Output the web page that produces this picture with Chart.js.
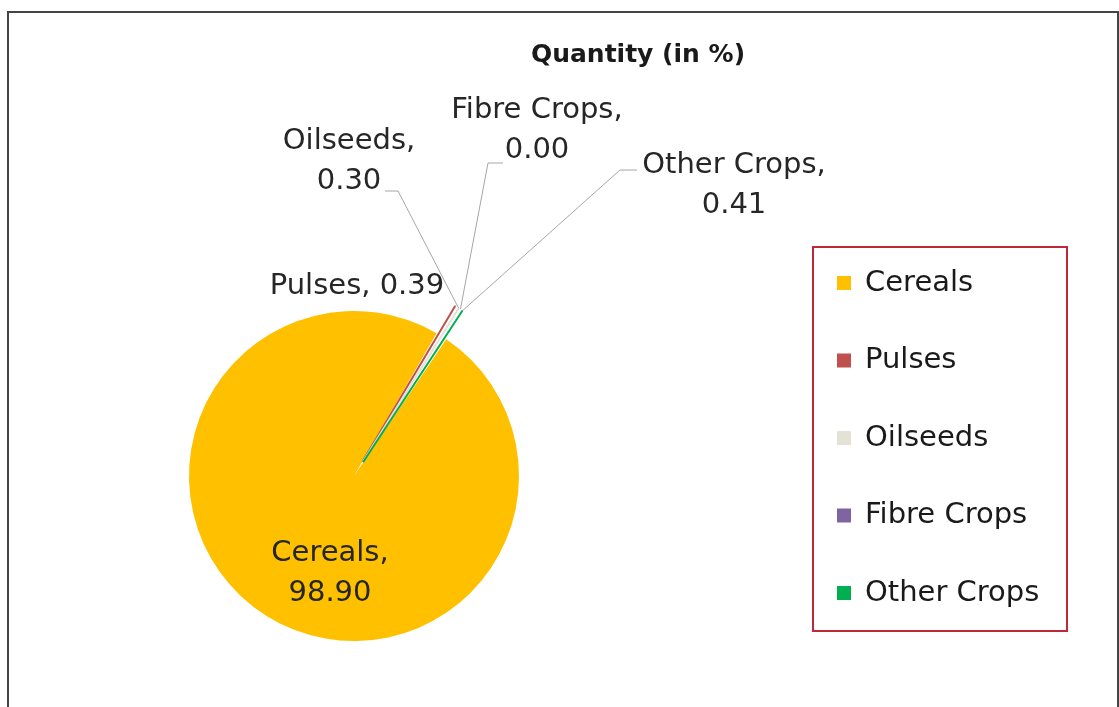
<!DOCTYPE html>
<html>
<head>
<meta charset="utf-8">
<title>Quantity (in %)</title>
<script src="https://cdn.jsdelivr.net/npm/chart.js@4/dist/chart.umd.min.js"></script>
<style>
  html, body { margin: 0; background: #fff; }
  #wrap { position: relative; width: 1119px; height: 707px; overflow: hidden; }
  #frame { position: absolute; left: 7px; top: 11px; width: 1112px; height: 800px; border: 2px solid #444; box-sizing: border-box; }
  #box { position: absolute; left: 0; top: 0; width: 1119px; height: 707px; }
</style>
</head>
<body>
<div id="wrap">
  <div id="frame"></div>
  <div id="box"><canvas id="pieChart"></canvas></div>
</div>
<script>
// data
const chartTitle = "Quantity (in %)";
const crops = ["Cereals", "Pulses", "Oilseeds", "Fibre Crops", "Other Crops"];
const quantity = [98.90, 0.39, 0.30, 0.00, 0.41];
const sliceColors = ["#FFC000", "#C0504D", "#E4E2D4", "#8064A2", "#00B050"];

// where each data label sits (centre of text block) and whether it wraps
const labelSpots = [
  { x: 330, y: 573, wrap: true },
  { x: 357, y: 286, wrap: false },
  { x: 349, y: 161, wrap: true },
  { x: 537, y: 130, wrap: true },
  { x: 734, y: 185, wrap: true }
];
// elbow of the leader line: [startX, startY, bendX, bendY]
const leaders = [null, null, [385, 191, 398, 191], [503, 163, 488, 163], [637, 170, 620, 170]];

const FONT = '"DejaVu Sans", "Noto Sans", sans-serif';
const LINE_H = 40;

function sliceTip(arc) {
  // same shift ArcElement.draw applies for `offset`
  const { x, y, startAngle, endAngle, outerRadius, circumference } = arc.getProps(
    ["x", "y", "startAngle", "endAngle", "outerRadius", "circumference"], true);
  const mid = (startAngle + endAngle) / 2;
  const off = (arc.options.offset || 0) / 4;
  const fix = 1 - Math.sin(Math.min(Math.PI, circumference || 0));
  const r = outerRadius + off + off * fix;
  return [x + Math.cos(mid) * r, y + Math.sin(mid) * r];
}

const piePainter = {
  id: "piePainter",
  afterDatasetsDraw(chart) {
    const ctx = chart.ctx;
    const meta = chart.getDatasetMeta(0);
    ctx.save();

    // title
    ctx.fillStyle = "#1a1a1a";
    ctx.textAlign = "center";
    ctx.textBaseline = "middle";
    ctx.font = "bold 25px " + FONT;
    ctx.fillText(chartTitle, 638, 55);

    // leader lines
    ctx.strokeStyle = "#a6a6a6";
    ctx.lineWidth = 1;
    leaders.forEach((l, i) => {
      if (!l) return;
      const [tx, ty] = sliceTip(meta.data[i]);
      ctx.beginPath();
      ctx.moveTo(l[0], l[1]);
      ctx.lineTo(l[2], l[3]);
      ctx.lineTo(tx, ty);
      ctx.stroke();
    });

    // data labels
    ctx.font = "29px " + FONT;
    crops.forEach((name, i) => {
      const s = labelSpots[i];
      const val = quantity[i].toFixed(2);
      ctx.fillStyle = "#262626";
      if (s.wrap) {
        ctx.fillText(name + ",", s.x, s.y - LINE_H / 2);
        ctx.fillText(val, s.x, s.y + LINE_H / 2);
      } else {
        ctx.fillText(name + ", " + val, s.x, s.y);
      }
    });

    // legend with red border
    ctx.strokeStyle = "#C0283A";
    ctx.lineWidth = 2;
    ctx.strokeRect(813, 247, 254, 384);
    ctx.textAlign = "left";
    crops.forEach((name, i) => {
      const cy = 283 + i * 77.5;
      ctx.fillStyle = sliceColors[i];
      ctx.fillRect(837, cy - 7, 14, 14);
      ctx.fillStyle = "#1a1a1a";
      ctx.fillText(name, 865, cy);
    });

    ctx.restore();
  }
};

new Chart(document.getElementById("pieChart"), {
  type: "pie",
  data: {
    labels: crops,
    datasets: [{
      data: quantity,
      backgroundColor: sliceColors,
      // thin exploded slivers show up only through their outline
      borderColor: sliceColors,
      borderWidth: quantity.map(v => (v < 5 ? 2 : 0)),
      offset: quantity.map(v => (v < 5 ? 66 : 0))
    }]
  },
  options: {
    responsive: true,
    maintainAspectRatio: false,
    animation: false,
    rotation: 34,
    radius: 165,
    layout: { padding: { left: 0, right: 411, top: 245, bottom: 0 } },
    plugins: {
      legend: { display: false },
      title: { display: false },
      tooltip: { enabled: false }
    }
  },
  plugins: [piePainter]
});
</script>
</body>
</html>
